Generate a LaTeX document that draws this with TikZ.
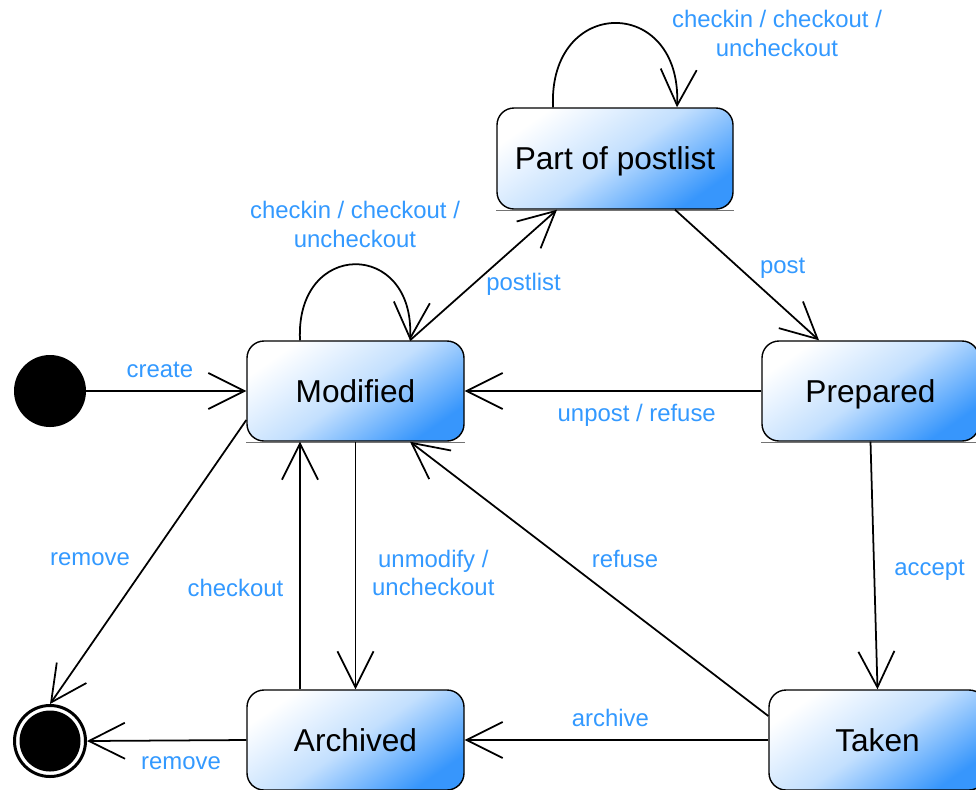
\documentclass[tikz,border=0pt]{standalone}
\usepackage{fontspec}
\setmainfont{Liberation Sans}
\usepackage{tikz}
\usetikzlibrary{calc,shapes,arrows.meta}
\pgfdeclarelayer{background}
\pgfsetlayers{background,main}
\definecolor{lblue}{RGB}{51,153,255}
\definecolor{sblue}{RGB}{55,150,252}
\tikzset{
   shadowline/.style={-, draw=black!55, line width=0.8pt},
   trans/.style={->, line width=1pt, every edge/.append style={line width=1pt}},
}

\begin{document}
\begin{tikzpicture}[->,>={Straight Barb[length=7.2mm,width=7.2mm]},
                    statebox/.style={rectangle,rounded corners=3.4mm,draw,line width=0.8pt,
                                     left color=white,right color=sblue,middle color=sblue!30!white,shading angle=35,
                                     minimum width=4.34cm,minimum height=2cm,text depth=0pt,
                                     font=\fontsize{18}{22}\selectfont},
                    startstate/.style={circle,fill=black,minimum size=1.44cm,inner sep=0pt},
                    endstate/.style={circle,draw,fill=white,line width=1.7pt,minimum size=1.42cm,inner sep=0pt,
                                     path picture={\fill[black] (path picture bounding box.center) circle (0.61cm);}},
                    lbl/.style={text=lblue,font=\fontsize{13.6}{16.4}\selectfont,align=center,inner sep=5pt}]
\useasboundingbox (0,0) rectangle (19.52,-15.78);
\node[statebox] (mod) at (7.11,-7.82) {Modified};
\node[statebox,minimum width=4.72cm,minimum height=2.02cm] (part) at ($ (mod) + (5.19, 4.65) $) {Part of postlist};
\node[statebox] (prep)  at ($ (mod) + (10.3, 0) $)      {Prepared};
\node[statebox] (arch)  at ($ (mod) + (0, -6.98) $)     {Archived};
\node[statebox] (taken) at ($ (mod) + (10.44, -6.98) $) {Taken};
\node[startstate] (start) at ($ (mod) + (-6.11, 0) $)    {};
\node[endstate]   (end)   at ($ (mod) + (-6.11, -7.0) $) {};
%
\begin{pgfonlayer}{background}
\foreach \n in {mod,part,prep,arch,taken}
  \draw[shadowline] ([yshift=-0.6pt]\n.south west) -- ([yshift=-0.6pt]\n.south east);
\end{pgfonlayer}
%
\draw[trans] ([xshift=-1.11cm]mod.north) .. controls +(-0.1,2.02) and +(0.1,2.02) .. ([xshift=1.09cm]mod.north)
  node[lbl,pos=0.5,above=4pt] {checkin / checkout /\\uncheckout};
\draw[trans] ([xshift=-1.24cm]part.north) .. controls +(-0.1,2.24) and +(0.1,2.24) .. ([xshift=1.24cm]part.north);
\node[lbl] (partloop) at ($ (part.north) + (3.24, 1.48) $) {checkin / checkout /\\uncheckout};
%
\path[trans]
  (start) edge node[lbl,above=2pt,pos=0.46] {create} (mod.west)
  ([xshift=1.09cm]mod.north) edge node[lbl,right,pos=0.43,xshift=2pt] {postlist} ([xshift=-1.16cm]part.south)
  ([xshift=1.2cm]part.south) edge node[lbl,right,pos=0.45,xshift=6pt] {post} ([xshift=-1.03cm]prep.north)
  (prep.west) edge node[lbl,below=2pt,pos=0.42] {unpost / refuse} (mod.east)
  (prep.south) edge node[lbl,right,pos=0.52,xshift=6pt] {accept} (taken.north)
  ([yshift=0.48cm]taken.west) edge node[lbl,above right,pos=0.5,xshift=-4pt,yshift=1pt] {refuse} ([xshift=1.09cm]mod.south)
  (taken.west) edge node[lbl,above=2pt,pos=0.52] {archive} (arch.east)
  ([xshift=-1.11cm]arch.north) edge node[lbl,left,pos=0.41,xshift=-4pt] {checkout} ([xshift=-1.11cm]mod.south)
  (mod.south) edge node[lbl,right,pos=0.53,xshift=4pt] {unmodify /\\uncheckout} (arch.north)
  ([yshift=-0.58cm]mod.west) edge node[lbl,left,pos=0.49,xshift=-6pt] {remove} (end.north)
  (arch.west) edge node[lbl,below=4pt,pos=0.41] {remove} (end.east)
  ;
\end{tikzpicture}
\end{document}
